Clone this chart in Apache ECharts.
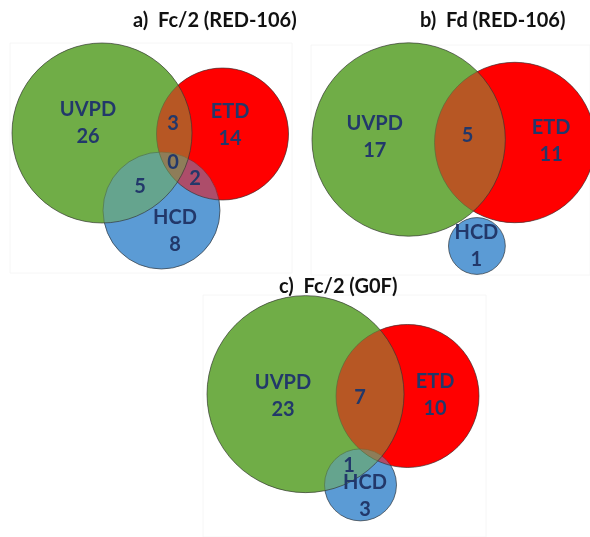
<html>
<head>
<meta charset="utf-8">
<title>Venn</title>
<style>html,body{margin:0;padding:0;background:#fff;}</style>
</head>
<body>
<div id="main" style="width:590px;height:537px;"></div>
<script src="https://cdn.jsdelivr.net/npm/echarts@6/dist/echarts.min.js"></script>
<script>
var titles = ['a)  Fc/2 (RED-106)', 'b)  Fd (RED-106)', 'c)  Fc/2 (G0F)'];
var setNames = ['UVPD', 'ETD', 'HCD'];

// counts per region: UVPD only, ETD only, HCD only, UVPD∩ETD, UVPD∩HCD, ETD∩HCD, all three
var countsA = [26, 14, 8, 3, 5, 2, 0];
var countsB = [17, 11, 1, 5, null, null, null];
var countsC = [23, 10, 3, 7, 1, null, null];

// circles [cx, cy, r] in panel units, order UVPD, ETD, HCD
var circlesA = [[92, 90, 90], [212.5, 91, 66], [151.5, 167.5, 58.5]];
var circlesB = [[98, 94.5, 97], [204.5, 97.5, 80.5], [166.5, 201, 28.5]];
var circlesC = [[102.5, 106.5, 98.5], [204.5, 108.5, 71.5], [157.5, 204, 36]];

// where each region's label sits (same order as counts)
var anchorsA = [[78, 80], [220, 82], [165, 188], [163, 81], [130, 144], [185, 136], [163, 120]];
var anchorsB = [[64, 92], [241, 96], [166, 201], [157, 91], null, null, null];
var anchorsC = [[80, 109], [232, 108], [162, 216], [157, 110], [146, 183], null, null];

var solid = ['#70AD47', '#FF0000', '#5B9BD5'];
var tint = ['rgba(112,173,71,0.5)', 'rgba(255,0,0,0.5)', 'rgba(91,155,213,0.5)'];

var chart = echarts.init(document.getElementById('main'));

function circleSeries(gi, circles, pass) {
	// first pass opaque G,R,B ; second pass half transparent B,R,G
	var order = pass == 0 ? [0, 1, 2] : [2, 1, 0];
	var data = order.map(function (k) { return circles[k].concat([k]); });
	return {
		type: 'custom',
		xAxisIndex: gi, yAxisIndex: gi,
		z: 2 + pass,
		silent: true,
		data: data,
		renderItem: function (params, api) {
			var c = api.coord([api.value(0), api.value(1)]);
			var r = api.size([api.value(2), 0])[0];
			var k = api.value(3);
			return {
				type: 'circle',
				z2: params.dataIndex,
				shape: {cx: c[0], cy: c[1], r: r},
				style: pass == 0 ? {fill: solid[k]} :
					{fill: tint[k], stroke: 'rgba(50,50,50,0.65)', lineWidth: 1}
			};
		}
	};
}

function labelSeries(gi, counts, anchors) {
	var texts = [], data = [];
	counts.forEach(function (v, i) {
		if (v == null) return;
		texts.push(i < 3 ? setNames[i] + '\n' + v : String(v));
		data.push(anchors[i]);
	});
	return {
		type: 'custom',
		xAxisIndex: gi, yAxisIndex: gi,
		z: 5,
		silent: true,
		data: data,
		renderItem: function (params, api) {
			var p = api.coord([api.value(0), api.value(1)]);
			return {
				type: 'text',
				style: {
					text: texts[params.dataIndex],
					x: p[0], y: p[1],
					align: 'center', verticalAlign: 'middle',
					font: 'bold 20px Lato',
					lineHeight: 27,
					fill: '#22386a'
				}
			};
		}
	};
}

var grids = [
	{left: 10, top: 43, width: 282, height: 230},
	{left: 311, top: 45, width: 280, height: 230},
	{left: 203, top: 295, width: 283, height: 260}
];
var panels = [[circlesA, countsA, anchorsA], [circlesB, countsB, anchorsB], [circlesC, countsC, anchorsC]];

var series = [];
panels.forEach(function (p, gi) {
	series.push(circleSeries(gi, p[0], 0));
	series.push(circleSeries(gi, p[0], 1));
	series.push(labelSeries(gi, p[1], p[2]));
});

var titleStyle = {fontFamily: 'Lato', fontWeight: 'bold', fontSize: 20, color: '#111'};

option = {
	animation: false,
	title: [
		{text: titles[0], left: 133, top: 11, padding: 0, textStyle: titleStyle},
		{text: titles[1], left: 420, top: 11, padding: 0, textStyle: titleStyle},
		{text: titles[2], left: 279, top: 277, padding: 0, textStyle: titleStyle}
	],
	grid: grids.map(function (g) {
		return Object.assign({show: true, borderColor: '#f6f6f6', borderWidth: 1, backgroundColor: 'transparent'}, g);
	}),
	xAxis: grids.map(function (g, i) {
		return {gridIndex: i, type: 'value', min: 0, max: g.width, show: false};
	}),
	yAxis: grids.map(function (g, i) {
		return {gridIndex: i, type: 'value', min: 0, max: g.height, inverse: true, show: false};
	}),
	series: series
};

chart.setOption(option);
</script>
</body>
</html>
